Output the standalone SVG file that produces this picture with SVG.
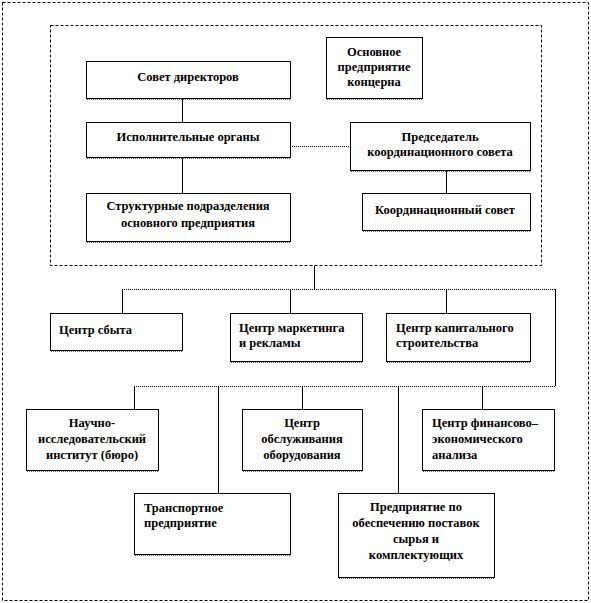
<svg xmlns="http://www.w3.org/2000/svg" width="591" height="603" viewBox="0 0 591 603">
<style>
.frame{fill:none;stroke:#000;stroke-width:1;stroke-dasharray:3 2}
.box{fill:#fff;stroke:#000;stroke-width:1}
.sh{stroke:#666;stroke-width:1;stroke-dasharray:1 1}
.v{stroke:#000;stroke-width:1;fill:none}
.h{stroke:#000;stroke-width:1;stroke-dasharray:1 1;fill:none}
.c{text-anchor:middle}
</style>
<rect width="591" height="603" fill="#fff"/>
<rect class="frame" x="2.5" y="2.5" width="586" height="598"/>
<rect class="frame" x="50.5" y="25.5" width="491" height="240"/>
<g id="connectors">
<path class="v" d="M182.5 98V122M182.5 157V193M446.5 170V193M314.5 266V289"/>
<path class="h" d="M290 146.5H350"/>
<path class="h" d="M122 289.5H555"/>
<path class="v" d="M555.5 289V386"/>
<path class="h" d="M134 386.5H555"/>
<path class="v" d="M122.5 289V313M290.5 289V313M446.5 289V313"/>
<path class="v" d="M134.5 386V409M218.5 386V493M302.5 386V409M398.5 386V493M482.5 386V409"/>
</g>
<g font-family="Liberation Serif, Times New Roman, serif" font-weight="bold" font-size="12.5" fill="#000">
<g id="sovet"><rect class="box" x="86.5" y="61.5" width="204" height="37"/><path class="sh" d="M87 99.5H291"/><text class="c" x="188" y="81">Совет директоров</text></g>
<g id="ispoln"><rect class="box" x="86.5" y="122.5" width="204" height="35"/><path class="sh" d="M87 158.5H291"/><text class="c" x="188" y="141">Исполнительные  органы</text></g>
<g id="struct"><rect class="box" x="86.5" y="193.5" width="204" height="48"/><path class="sh" d="M87 242.5H291"/><text class="c" x="188" y="210">Структурные  подразделения</text><text class="c" x="188" y="227">основного предприятия</text></g>
<g id="osnovnoe"><rect class="box" x="326.5" y="37.5" width="96" height="61"/><path class="sh" d="M327 99.5H423"/><text class="c" x="374" y="56">Основное</text><text class="c" x="374" y="71">предприятие</text><text class="c" x="374" y="86">концерна</text></g>
<g id="predsed"><rect class="box" x="350.5" y="122.5" width="180" height="48"/><path class="sh" d="M351 171.5H531"/><text class="c" x="440" y="141">Председатель</text><text class="c" x="440" y="156">координационного совета</text></g>
<g id="koord"><rect class="box" x="362.5" y="193.5" width="168" height="37"/><path class="sh" d="M363 231.5H531"/><text class="c" x="445" y="214">Координационный совет</text></g>
<g id="sbyt"><rect class="box" x="50.5" y="313.5" width="132" height="37"/><path class="sh" d="M51 351.5H183"/><text x="59" y="334">Центр сбыта</text></g>
<g id="marketing"><rect class="box" x="230.5" y="313.5" width="132" height="48"/><path class="sh" d="M231 362.5H363"/><text x="239" y="332">Центр маркетинга</text><text x="239" y="347">и рекламы</text></g>
<g id="kapital"><rect class="box" x="386.5" y="313.5" width="144" height="48"/><path class="sh" d="M387 362.5H531"/><text x="396" y="332">Центр капитального</text><text x="396" y="347">строительства</text></g>
<g id="nii"><rect class="box" x="26.5" y="409.5" width="132" height="61"/><path class="sh" d="M27 471.5H159"/><text class="c" x="92" y="427">Научно-</text><text class="c" x="92" y="443">исследовательский</text><text class="c" x="92" y="459">институт  (бюро)</text></g>
<g id="obsl"><rect class="box" x="242.5" y="409.5" width="120" height="61"/><path class="sh" d="M243 471.5H363"/><text class="c" x="302" y="427">Центр</text><text class="c" x="302" y="443">обслуживания</text><text class="c" x="302" y="459">оборудования</text></g>
<g id="finans"><rect class="box" x="422.5" y="409.5" width="132" height="61"/><path class="sh" d="M423 471.5H555"/><text x="432" y="427">Центр финансово–</text><text x="432" y="443">экономического</text><text x="432" y="459">анализа</text></g>
<g id="transport"><rect class="box" x="134.5" y="493.5" width="156" height="61"/><path class="sh" d="M135 555.5H291"/><text x="144" y="512">Транспортное</text><text x="144" y="527">предприятие</text></g>
<g id="postavki"><rect class="box" x="338.5" y="493.5" width="156" height="84"/><path class="sh" d="M339 578.5H495"/><text class="c" x="416" y="511">Предприятие по</text><text class="c" x="416" y="527">обеспечению поставок</text><text class="c" x="416" y="543">сырья и</text><text class="c" x="416" y="559">комплектующих</text></g>
</g>
</svg>
